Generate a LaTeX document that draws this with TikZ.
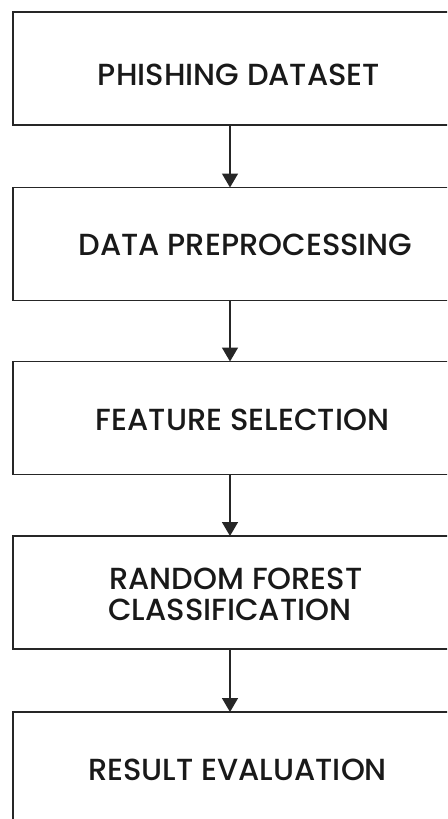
\documentclass[tikz,border=0pt]{standalone}
\usepackage{fontspec}
\setmainfont{Poppins Medium}
\usetikzlibrary{arrows.meta}
\begin{document}
\begin{tikzpicture}[x=1pt,y=-1pt,
  stagebox/.style={draw=black!85,line width=1.7pt,minimum width=454pt,minimum height=113pt,inner sep=0pt,outer sep=0pt},
  lbl/.style={font=\fontsize{30.5}{31}\selectfont,text=black!90,inner sep=0pt,anchor=base},
  arr/.style={draw=black!85,line width=1.5pt,-{Triangle[width=16pt,length=14pt]}}]
\useasboundingbox (0,0) rectangle (447,819);
\clip (0,0) rectangle (447,819);
\fill[white] (0,0) rectangle (447,819);
\node[stagebox] (b1) at (240,68.5) {};
\node[stagebox] (b2) at (240,244) {};
\node[stagebox] (b3) at (240,418) {};
\node[stagebox] (b4) at (240,592.5) {};
\node[stagebox] (b5) at (240,768.5) {};
\node[lbl] (t1) at (239,85) {PHISHING DATASET};
\node[lbl] (t2) at (245.5,255) {DATA PREPROCESSING};
\node[lbl] (t3) at (242.5,430) {FEATURE SELECTION};
\node[lbl,anchor=base west] (t4a) at (109,589) {RANDOM FOREST};
\node[lbl,anchor=base west] (t4b) at (108,620) {CLASSIFICATION};
\node[lbl] (t5) at (237.5,780) {RESULT EVALUATION};
\draw[arr] ([xshift=-10pt]b1.south) -- ([xshift=-10pt]b2.north);
\draw[arr] ([xshift=-10pt]b2.south) -- ([xshift=-10pt]b3.north);
\draw[arr] ([xshift=-10pt]b3.south) -- ([xshift=-10pt]b4.north);
\draw[arr] ([xshift=-10pt]b4.south) -- ([xshift=-10pt]b5.north);
\end{tikzpicture}
\end{document}
